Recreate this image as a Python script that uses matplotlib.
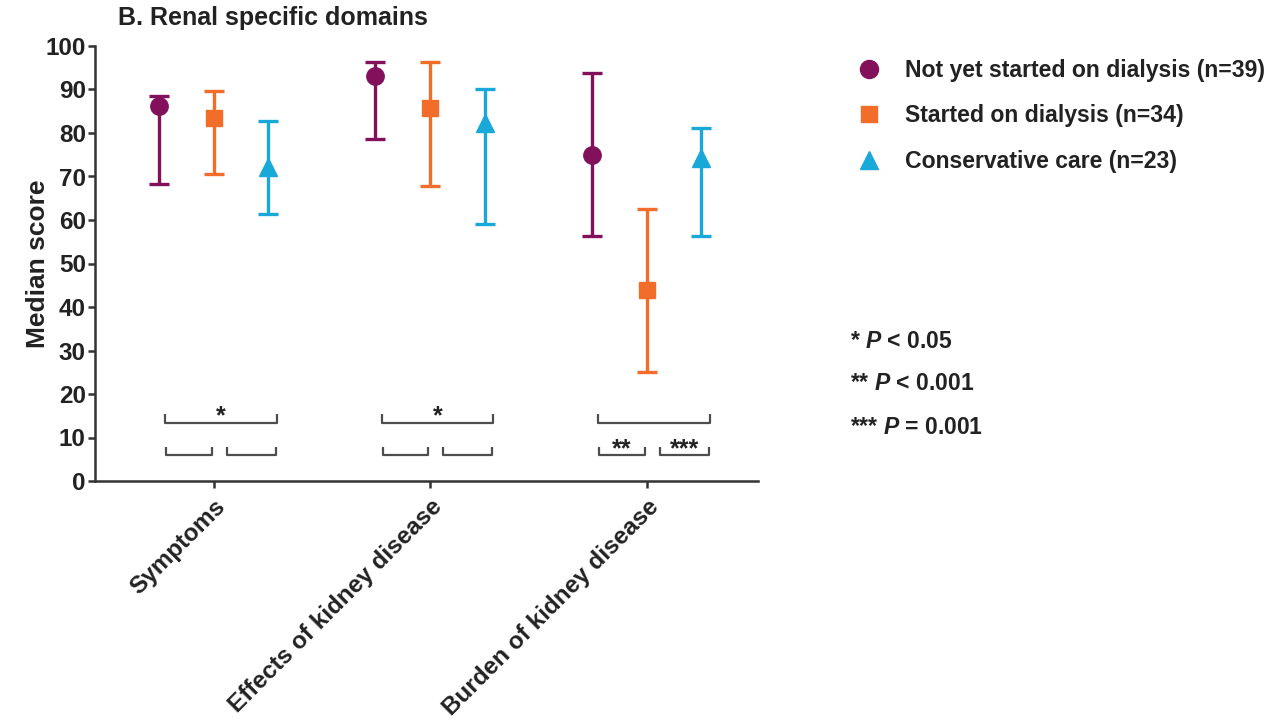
import matplotlib
matplotlib.use("Agg")
import matplotlib.pyplot as plt
from matplotlib.lines import Line2D

plt.rcParams['font.family'] = ['Liberation Sans', 'DejaVu Sans']
plt.rcParams['font.weight'] = 'bold'
plt.rcParams['mathtext.fontset'] = 'custom'
plt.rcParams['mathtext.it'] = 'Liberation Sans:italic:bold'
plt.rcParams['mathtext.rm'] = 'Liberation Sans:bold'

domains = ['Symptoms', 'Effects of kidney disease', 'Burden of kidney disease']
groups = ['Not yet started on dialysis (n=39)',
          'Started on dialysis (n=34)',
          'Conservative care (n=23)']

# median, lower and upper of the range for each group
not_yet_med = [86.2, 93.0, 74.9]
not_yet_lo = [68.3, 78.6, 56.3]
not_yet_hi = [88.5, 96.3, 93.9]

started_med = [83.4, 85.7, 43.9]
started_lo = [70.6, 67.9, 25.1]
started_hi = [89.7, 96.3, 62.5]

conserv_med = [72.2, 82.3, 74.2]
conserv_lo = [61.4, 59.1, 56.3]
conserv_hi = [82.8, 90.2, 81.2]

# significance labels: top bracket (not yet vs conservative),
# lower-left (not yet vs started), lower-right (started vs conservative)
sig_top = ['*', '*', '']
sig_left = ['', '', '**']
sig_right = ['', '', '***']

p_notes = ['* $P$ < 0.05', '** $P$ < 0.001', '*** $P$ = 0.001']

colors = ['#83105a', '#f26d2a', '#19a9d9']
markers = ['o', 's', '^']
msizes = [12.5, 11.5, 13]
offsets = [-0.255, 0.0, 0.25]

fig = plt.figure(figsize=(12.88, 7.27), dpi=100)
ax = fig.add_axes([95.5 / 1288, 1 - 481 / 727, (758 - 95.5) / 1288, (481 - 46) / 727])

series = [(not_yet_med, not_yet_lo, not_yet_hi),
          (started_med, started_lo, started_hi),
          (conserv_med, conserv_lo, conserv_hi)]

x = range(len(domains))
for (med, lo, hi), c, m, ms, off in zip(series, colors, markers, msizes, offsets):
    xs = [i + off for i in x]
    yerr = [[md - l for md, l in zip(med, lo)], [h - md for md, h in zip(med, hi)]]
    ax.errorbar(xs, med, yerr=yerr, fmt=m, color=c, ecolor=c, elinewidth=2.4,
                capsize=7.5, capthick=2.4, markersize=ms, zorder=3)

# brackets
bk = '#4d4d4d'
def bracket(x1, x2, y, h, label):
    ax.plot([x1, x1, x2, x2], [y + h, y, y, y + h], color=bk, lw=1.6,
            solid_capstyle='butt', zorder=2)
    if label:
        ax.text((x1 + x2) / 2, y + h - 0.6, label, ha='center', va='center',
                fontsize=18, color='#222222')

for i in x:
    bracket(i - 0.225, i + 0.29, 13.3, 2.1, sig_top[i])
    bracket(i - 0.22, i - 0.01, 6.0, 1.8, sig_left[i])
    bracket(i + 0.06, i + 0.285, 6.0, 1.8, sig_right[i])

ax.set_xlim(-0.547, 2.513)
ax.set_ylim(0, 100)
ax.set_yticks(range(0, 101, 10))
ax.set_xticks(list(x))
ax.set_xticklabels(domains, rotation=45, ha='right', va='top',
                   rotation_mode='anchor', fontsize=17.5)
ax.tick_params(axis='y', labelsize=17.5, length=5, width=1.8, pad=2, colors='#333333')
ax.tick_params(axis='x', length=5, width=1.8, pad=5, colors='#333333')
for lab in ax.get_xticklabels() + ax.get_yticklabels():
    lab.set_fontweight('bold')
    lab.set_color('#222222')

for s in ['top', 'right']:
    ax.spines[s].set_visible(False)
for s in ['left', 'bottom']:
    ax.spines[s].set_linewidth(1.8)
    ax.spines[s].set_color('#333333')

ax.set_ylabel('Median score', fontsize=19, fontweight='bold', color='#222222')
ax.yaxis.set_label_coords((50 - 95.5) / 662.5, 0.5)
ax.set_title('B. Renal specific domains', fontsize=18, fontweight='bold',
             color='#222222', loc='left', x=(118 - 95.5) / 662.5, y=1.0, pad=15)

handles = [Line2D([], [], ls='none', marker=m, color=c, markersize=ms)
           for m, c, ms in zip(markers, colors, [13, 12, 13])]
fig.legend(handles, groups, loc='upper left', bbox_to_anchor=(857 / 1288, 1 - 59 / 727),
           frameon=False, handlelength=1.0, handletextpad=1.1,
           labelspacing=0.97, borderpad=0, borderaxespad=0, labelcolor='#222222',
           prop={'weight': 'bold', 'size': 16.6})

for k, note in enumerate(p_notes):
    fig.text(850 / 1288, 1 - (341 + 43 * k) / 727, note, fontsize=16.5,
             fontweight='bold', color='#222222', va='center', ha='left')

fig.savefig('out.png', dpi=100, facecolor='white')
